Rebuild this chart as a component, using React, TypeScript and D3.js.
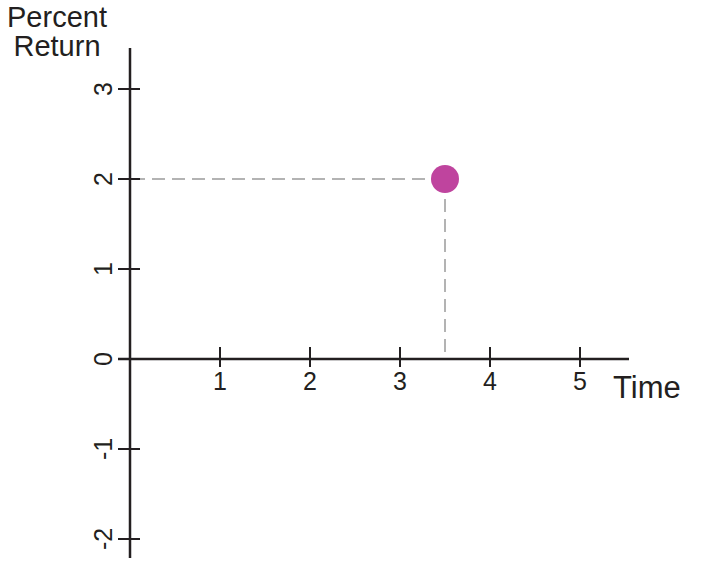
import * as d3 from "d3";
import { useEffect, useRef } from "react";

const xTicks = [1, 2, 3, 4, 5];
const yTicks = [-2, -1, 0, 1, 2, 3];
const point = { time: 3.5, ret: 2 };
const xTitle = "Time";
const yTitle = ["Percent", "Return"];

const App = () => {
  const ref = useRef<SVGSVGElement>(null);

  useEffect(() => {
    d3.select(ref.current).selectAll("*").remove();

    const width = 713,
      height = 570;

    const svg = d3.select(ref.current);
    const font = "'Liberation Sans', Arial, sans-serif";
    const ink = "#231f20";

    var x = d3.scaleLinear().domain([0, 5]).range([130, 580]);
    var y = d3.scaleLinear().domain([0, 3]).range([359, 89]);

    // guide lines from the point to the axes
    svg.append("line")
      .attr("x1", x(point.time))
      .attr("x2", x(0))
      .attr("y1", y(point.ret))
      .attr("y2", y(point.ret))
      .attr("stroke", "#b3b3b3")
      .attr("stroke-width", 2)
      .attr("stroke-dasharray", "13,7");

    svg.append("line")
      .attr("x1", x(point.time))
      .attr("x2", x(point.time))
      .attr("y1", y(point.ret))
      .attr("y2", y(0))
      .attr("stroke", "#b3b3b3")
      .attr("stroke-width", 2)
      .attr("stroke-dasharray", "13,7");

    // axes
    svg.append("line")
      .attr("x1", x(0) - 12)
      .attr("x2", 629)
      .attr("y1", y(0))
      .attr("y2", y(0))
      .attr("stroke", ink)
      .attr("stroke-width", 2.5);

    svg.append("line")
      .attr("x1", x(0))
      .attr("x2", x(0))
      .attr("y1", 48)
      .attr("y2", 558)
      .attr("stroke", ink)
      .attr("stroke-width", 2.5);

    // x ticks
    const xg = svg.append("g");
    xTicks.forEach(t => {
      xg.append("line")
        .attr("x1", x(t)).attr("x2", x(t))
        .attr("y1", y(0) - 12).attr("y2", y(0) + 8)
        .attr("stroke", ink).attr("stroke-width", 2);
      xg.append("text")
        .attr("x", x(t))
        .attr("y", y(0) + 31)
        .attr("text-anchor", "middle")
        .attr("font-family", font)
        .attr("font-size", 25)
        .attr("fill", ink)
        .text(t);
    });

    // y ticks
    const yg = svg.append("g");
    yTicks.forEach(t => {
      yg.append("line")
        .attr("x1", x(0) - 12).attr("x2", x(0) + 10)
        .attr("y1", y(t)).attr("y2", y(t))
        .attr("stroke", ink).attr("stroke-width", 2);
      yg.append("text")
        .attr("transform", `translate(${x(0) - 18},${y(t)}) rotate(-90)`)
        .attr("text-anchor", "middle")
        .attr("font-family", font)
        .attr("font-size", 25)
        .attr("fill", ink)
        .text(String(t));
    });

    // point
    svg.append("circle")
      .attr("cx", x(point.time))
      .attr("cy", y(point.ret))
      .attr("r", 14)
      .attr("fill", "#bf449e");

    // titles
    svg.append("text")
      .attr("x", 613)
      .attr("y", 398)
      .attr("font-family", font)
      .attr("font-size", 31)
      .attr("fill", ink)
      .text(xTitle);

    yTitle.forEach((s, i) => {
      svg.append("text")
        .attr("x", 57)
        .attr("y", 27 + i * 29)
        .attr("text-anchor", "middle")
        .attr("font-family", font)
        .attr("font-size", 29)
        .attr("fill", ink)
        .text(s);
    });

    svg.attr("width", width).attr("height", height);
  }, []);

  return (
    <svg
      ref={ref}
      width={713}
      height={570}
      style={{ position: "absolute", left: 0, top: 0, background: "white" }}
    />
  );
};

export default App;
